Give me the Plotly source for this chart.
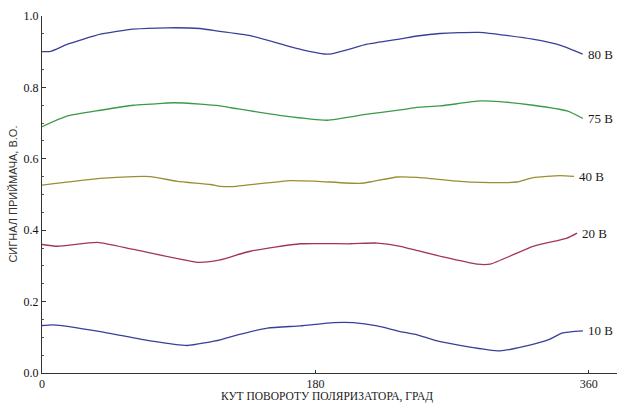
import plotly.graph_objects as go

# ---- data ----
angles_80 = [0, 5.6, 16.8, 38.5, 60, 82.6, 104, 117, 137, 170, 188.5, 214, 236, 247, 262, 288, 323, 342, 356]
values_80 = [0.900, 0.901, 0.921, 0.949, 0.963, 0.967, 0.965, 0.957, 0.945, 0.907, 0.893, 0.921, 0.936, 0.944, 0.951, 0.954, 0.935, 0.917, 0.893]

angles_75 = [0, 16.8, 38.5, 60.2, 71.4, 86.5, 104.3, 117.4, 124.7, 158.9, 187.8, 214.1, 235.9, 247, 262.2, 288.5, 301.6, 323.4, 345.7, 356.2]
values_75 = [0.690, 0.720, 0.736, 0.750, 0.753, 0.757, 0.753, 0.748, 0.743, 0.720, 0.708, 0.725, 0.737, 0.744, 0.748, 0.762, 0.760, 0.750, 0.734, 0.713]

angles_40 = [0, 38.5, 60.2, 71.4, 89.1, 110.9, 117.4, 124.7, 163.5, 181.2, 209.5, 218.1, 233.9, 247, 275.3, 301.6, 312.8, 323.4, 341.1, 350.3]
values_40 = [0.526, 0.545, 0.550, 0.550, 0.537, 0.528, 0.523, 0.522, 0.539, 0.537, 0.531, 0.537, 0.549, 0.548, 0.537, 0.533, 0.535, 0.547, 0.553, 0.551]

angles_20 = [0, 10.2, 36.5, 60.2, 102.3, 108.9, 117.4, 137.2, 170.1, 202.9, 220.7, 235.9, 247, 264.1, 286.5, 295.1, 323.4, 345.7, 352.3]
values_20 = [0.360, 0.355, 0.366, 0.346, 0.310, 0.311, 0.317, 0.341, 0.362, 0.362, 0.364, 0.355, 0.343, 0.325, 0.305, 0.305, 0.355, 0.378, 0.392]

angles_10 = [0, 7.6, 38.5, 71.4, 95.7, 117.4, 124.7, 148.4, 170.1, 191.8, 204.9, 220.7, 235.9, 247, 257.6, 279.9, 301.6, 316.8, 334.5, 342.4, 356.2]
values_10 = [0.133, 0.135, 0.116, 0.090, 0.077, 0.093, 0.102, 0.126, 0.132, 0.141, 0.141, 0.132, 0.116, 0.107, 0.093, 0.074, 0.062, 0.074, 0.095, 0.112, 0.118]

series_labels = ["80 В", "75 В", "40 В", "20 В", "10 В"]
x_tick_vals = [0, 180, 360]
y_tick_vals = [0.0, 0.2, 0.4, 0.6, 0.8, 1.0]

series = [
    (angles_80, values_80, "#3a3f98"),
    (angles_75, values_75, "#3a9a48"),
    (angles_40, values_40, "#9a8e32"),
    (angles_20, values_20, "#a03658"),
    (angles_10, values_10, "#3a3f98"),
]

fig = go.Figure()
for (ang, val, col), lab in zip(series, series_labels):
    fig.add_trace(go.Scatter(x=ang, y=val, mode="lines", name=lab,
                             line=dict(color=col, width=1.3, shape="spline", smoothing=0.5),
                             showlegend=False, hoverinfo="skip"))
    fig.add_annotation(x=ang[-1] + 2, y=val[-1], text=lab, showarrow=False,
                       xanchor="left", yanchor="middle",
                       font=dict(family="Liberation Serif", size=13, color="#1a1a1a"))

serif = dict(family="Liberation Serif", size=12, color="#1a1a1a")

fig.update_layout(
    width=617, height=405,
    margin=dict(l=42, r=0, t=16, b=32),
    paper_bgcolor="white", plot_bgcolor="white",
    xaxis=dict(range=[0, 378.6], tickvals=x_tick_vals, ticktext=[str(v) for v in x_tick_vals],
               ticks="inside", ticklen=3, tickcolor="#333", showgrid=False, zeroline=False,
               showline=True, linecolor="#333", linewidth=1, tickfont=serif, automargin=False,
               ticklabelstandoff=0),
    yaxis=dict(range=[0, 1.0], tickvals=y_tick_vals, tickformat=".1f",
               ticks="inside", ticklen=4, tickcolor="#333", showgrid=False, zeroline=False,
               showline=True, linecolor="#333", linewidth=1,
               tickfont=dict(family="Liberation Serif", size=12, color="#111"),
               minor=dict(dtick=0.05, ticks="inside", ticklen=2, tickcolor="#555"),
               automargin=False, ticklabelstandoff=0),
)

fig.add_annotation(xref="paper", yref="paper", x=0.495, y=-0.067, yanchor="middle",
                   text="КУТ ПОВОРОТУ ПОЛЯРИЗАТОРА, ГРАД", showarrow=False, borderpad=0,
                   font=dict(family="Liberation Serif", size=11.5, color="#1a1a1a"))
fig.add_annotation(xref="paper", yref="paper", x=-0.052, y=0.5, xanchor="center",
                   text="СИГНАЛ ПРИЙМАЧА, В.О.", showarrow=False, textangle=-90,
                   font=dict(family="Liberation Sans", size=11, color="#333"))

fig.write_html("out.html", config={"displayModeBar": False},
               post_script="document.body.style.margin='0';document.body.style.overflow='hidden';")
